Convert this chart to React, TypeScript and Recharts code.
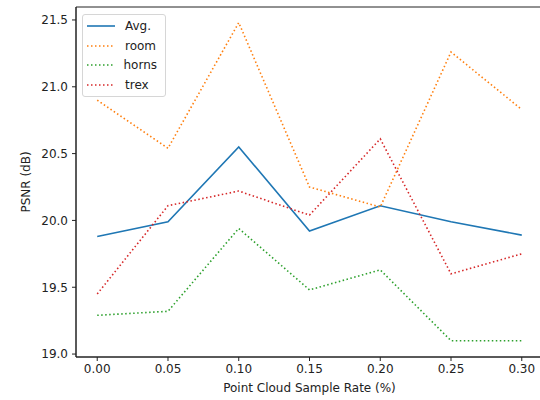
import {
  LineChart,
  Line,
  XAxis,
  YAxis,
  ReferenceArea,
} from 'recharts'

const rates = [0, 0.05, 0.1, 0.15, 0.2, 0.25, 0.3]
const avg = [19.88, 19.99, 20.55, 19.92, 20.11, 19.99, 19.89]
const room = [20.9, 20.54, 21.48, 20.25, 20.1, 21.26, 20.83]
const horns = [19.29, 19.32, 19.94, 19.48, 19.63, 19.1, 19.1]
const trex = [19.45, 20.11, 20.22, 20.04, 20.61, 19.6, 19.75]

const xTicks = [0, 0.05, 0.1, 0.15, 0.2, 0.25, 0.3]
const yTicks = [19, 19.5, 20, 20.5, 21, 21.5]

const data = rates.map((r, i) => ({
  rate: r,
  avg: avg[i],
  room: room[i],
  horns: horns[i],
  trex: trex[i],
}))

const series = [
  { key: 'avg', name: 'Avg.', color: '#1f77b4', dash: undefined },
  { key: 'room', name: 'room', color: '#ff7f0e', dash: '1.5 2.5' },
  { key: 'horns', name: 'horns', color: '#2ca02c', dash: '1.5 2.5' },
  { key: 'trex', name: 'trex', color: '#d62728', dash: '1.5 2.5' },
]

const xDomain = [-0.015, 0.315]
const yDomain = [18.978, 21.597]
const font = 'DejaVu Sans, sans-serif'
const tickStyle = { fontSize: 12, fill: '#222', fontFamily: font }

// matplotlib-style legend box, upper left inside the axes
function LegendBox() {
  return (
    <div
      style={{
        position: 'absolute',
        left: 82,
        top: 14,
        border: '1px solid #d6d6d6',
        borderRadius: 3,
        background: 'rgba(255,255,255,0.8)',
        padding: '1px 8px 1px 4px',
        fontFamily: font,
        fontSize: 12,
        color: '#222',
        width: 70,
      }}
    >
      {series.map((s) => (
        <div key={s.key} style={{ display: 'flex', alignItems: 'center', height: 19.7 }}>
          <svg width={28} height={6} style={{ marginRight: 10 }}>
            <line
              x1={0}
              y1={3}
              x2={28}
              y2={3}
              stroke={s.color}
              strokeWidth={1.6}
              strokeDasharray={s.dash}
            />
          </svg>
          <span>{s.name}</span>
        </div>
      ))}
    </div>
  )
}

export default function App() {
  return (
    <div style={{ position: 'absolute', left: 0, top: 0, width: 540, height: 400, overflow: 'hidden', background: '#fff' }}>
      <LineChart
        width={543}
        height={400}
        data={data}
        margin={{ top: 7, right: 0, left: 0, bottom: 0 }}
      >
        <XAxis
          dataKey="rate"
          type="number"
          domain={xDomain}
          ticks={xTicks}
          tickFormatter={(v: number) => v.toFixed(2)}
          height={43}
          tickSize={4}
          tickMargin={3}
          stroke="#222"
          tick={tickStyle}
          allowDataOverflow
          label={{
            value: 'Point Cloud Sample Rate (%)',
            position: 'insideBottom',
            offset: 8,
            style: { fontSize: 12, fill: '#222', fontFamily: font },
          }}
        />
        <YAxis
          type="number"
          domain={yDomain}
          ticks={yTicks}
          tickFormatter={(v: number) => v.toFixed(1)}
          width={76}
          tickSize={4}
          tickMargin={4}
          stroke="#222"
          tick={tickStyle}
          allowDataOverflow
          label={{
            value: 'PSNR (dB)',
            angle: -90,
            position: 'center',
            dx: -12,
            style: { fontSize: 12, fill: '#222', fontFamily: font, textAnchor: 'middle' },
          }}
        />
        <ReferenceArea
          x1={xDomain[0]}
          x2={xDomain[1]}
          y1={yDomain[0]}
          y2={yDomain[1]}
          fill="none"
          stroke="#222"
          strokeWidth={1}
          ifOverflow="visible"
        />
        {series.map((s) => (
          <Line
            key={s.key}
            dataKey={s.key}
            name={s.name}
            stroke={s.color}
            strokeWidth={1.6}
            strokeDasharray={s.dash}
            dot={false}
            isAnimationActive={false}
          />
        ))}
      </LineChart>
      <LegendBox />
    </div>
  )
}
